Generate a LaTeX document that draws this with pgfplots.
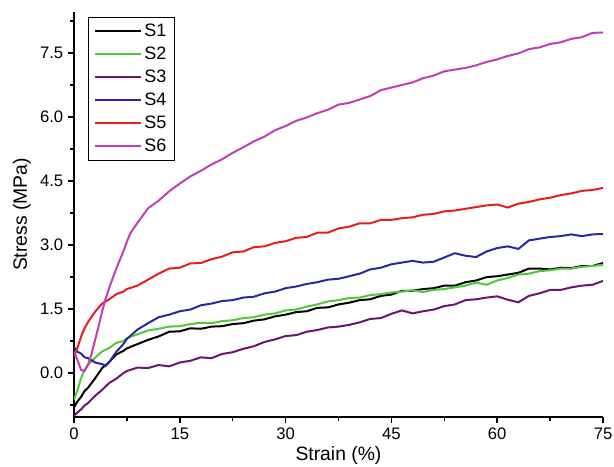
\documentclass[border=0pt]{standalone}
\usepackage{pgfplots}
\pgfplotsset{compat=1.18}
\usepackage{fontspec}
\setmainfont{Liberation Sans}

\definecolor{cS2}{RGB}{80,200,60}
\definecolor{cS3}{RGB}{110,20,110}
\definecolor{cS4}{RGB}{40,40,165}
\definecolor{cS5}{RGB}{230,30,30}
\definecolor{cS6}{RGB}{195,60,185}

\begin{document}
\begin{tikzpicture}
\begin{axis}[
  scale only axis, width=397pt, height=304pt,
  xmin=0, xmax=75, ymin=-1.03, ymax=8.46,
  axis x line*=bottom, axis y line*=left,
  axis line style={-, line width=1.1pt},
  tick align=outside, tick style={black, line width=1.1pt},
  major tick length=4.5pt, minor tick length=3pt,
  xtick={0,15,...,75}, minor xtick={7.5,22.5,...,67.5},
  ytick={0,1.5,...,7.5}, minor ytick={-0.75,0.75,...,8.25},
  yticklabel style={/pgf/number format/.cd, fixed, fixed zerofill, precision=1},
  /pgf/number format/assume math mode=true,
  ticklabel style={font=\fontsize{12.5}{14}\selectfont},
  xlabel={Strain (\%)}, ylabel={Stress (MPa)},
  every axis x label/.style={at={(rel axis cs:0.5,0)}, anchor=center, yshift=-29pt,
    font=\fontsize{14.5}{16}\selectfont},
  every axis y label/.style={at={(rel axis cs:0,0.5)}, rotate=90, anchor=center, yshift=39pt,
    font=\fontsize{14.5}{16}\selectfont},
  legend style={at={(rel axis cs:0,1)}, anchor=north west, xshift=10.5pt, yshift=-3.75pt,
    draw=black, line width=0.8pt,
    font=\fontsize{13.5}{15}\selectfont, row sep=2.3pt, inner xsep=4pt, inner ysep=3pt},
  legend cell align=left,
  legend image code/.code={\draw[#1, line width=1pt] (0cm,0cm) -- (1.15cm,0cm); \path (0cm,0cm) -- (1.21cm,0cm);},
  every axis plot/.append style={line width=1.5pt},
]
\addplot[black] coordinates {
(0,-0.80) (0.5,-0.66) (1,-0.56) (1.5,-0.42) (2,-0.34) (3,-0.12) (4,0.12) (5,0.26) (6,0.44) (7,0.52)
(7.5,0.58) (9,0.68) (10.5,0.78) (12,0.86) (13.5,0.97) (15,0.98) (16.5,1.05) (18,1.04) (19.5,1.09)
(21,1.10) (22.5,1.15) (24,1.17) (25.5,1.23) (27,1.26) (28.5,1.33) (30,1.37) (31.5,1.43) (33,1.45)
(34.5,1.53) (36,1.54) (37.5,1.61) (39,1.65) (40.5,1.71) (42,1.73) (43.5,1.81) (45,1.84) (46.5,1.93)
(48,1.93) (49.5,1.97) (51,1.99) (52.5,2.05) (54,2.05) (55.5,2.13) (57,2.17) (58.5,2.25) (60,2.27)
(61.5,2.31) (63,2.35) (64.5,2.45) (66,2.45) (67.5,2.43) (69,2.47) (70.5,2.46) (72,2.51) (73.5,2.51) (75,2.58)};
\addlegendentry{S1}
\addplot[cS2] coordinates {
(0,-0.62) (0.5,-0.40) (1,-0.12) (1.5,0.08) (2,0.20) (3,0.36) (4,0.51) (5,0.59) (6,0.71) (7,0.75)
(7.5,0.82) (9,0.91) (10.5,1.00) (12,1.04) (13.5,1.09) (15,1.10) (16.5,1.15) (18,1.18) (19.5,1.17)
(21,1.22) (22.5,1.24) (24,1.29) (25.5,1.31) (27,1.37) (28.5,1.40) (30,1.47) (31.5,1.49) (33,1.56)
(34.5,1.61) (36,1.68) (37.5,1.71) (39,1.76) (40.5,1.77) (42,1.83) (43.5,1.85) (45,1.89) (46.5,1.91)
(48,1.94) (49.5,1.90) (51,1.95) (52.5,1.97) (54,2.01) (55.5,2.05) (57,2.12) (58.5,2.07) (60,2.17)
(61.5,2.23) (63,2.31) (64.5,2.33) (66,2.39) (67.5,2.41) (69,2.45) (70.5,2.45) (72,2.49) (73.5,2.51) (75,2.54)};
\addlegendentry{S2}
\addplot[cS3] coordinates {
(0,-1.00) (0.5,-0.92) (1,-0.85) (1.5,-0.76) (2,-0.70) (3,-0.53) (4,-0.39) (5,-0.23) (6,-0.13) (7,0.00)
(7.5,0.05) (9,0.13) (10.5,0.12) (12,0.19) (13.5,0.16) (15,0.25) (16.5,0.29) (18,0.37) (19.5,0.35)
(21,0.45) (22.5,0.49) (24,0.57) (25.5,0.63) (27,0.73) (28.5,0.79) (30,0.87) (31.5,0.89) (33,0.97)
(34.5,1.01) (36,1.07) (37.5,1.09) (39,1.13) (40.5,1.19) (42,1.27) (43.5,1.29) (45,1.39) (46.5,1.47)
(48,1.40) (49.5,1.45) (51,1.49) (52.5,1.57) (54,1.61) (55.5,1.71) (57,1.73) (58.5,1.77) (60,1.80)
(61.5,1.72) (63,1.66) (64.5,1.81) (66,1.87) (67.5,1.95) (69,1.95) (70.5,2.01) (72,2.05) (73.5,2.07) (75,2.16)};
\addlegendentry{S3}
\addplot[cS4] coordinates {
(0,0.62) (0.5,0.50) (1,0.46) (1.5,0.37) (2,0.35) (3,0.25) (4,0.21) (4.5,0.17) (5,0.26) (6,0.50) (7,0.68)
(7.5,0.80) (9,1.02) (10.5,1.17) (12,1.31) (13.5,1.37) (15,1.45) (16.5,1.49) (18,1.59) (19.5,1.63)
(21,1.69) (22.5,1.71) (24,1.77) (25.5,1.79) (27,1.87) (28.5,1.91) (30,1.99) (31.5,2.03) (33,2.09)
(34.5,2.13) (36,2.19) (37.5,2.21) (39,2.27) (40.5,2.33) (42,2.43) (43.5,2.47) (45,2.55) (46.5,2.59)
(48,2.63) (49.5,2.59) (51,2.61) (52.5,2.71) (54,2.81) (55.5,2.75) (57,2.72) (58.5,2.85) (60,2.93)
(61.5,2.97) (63,2.91) (64.5,3.11) (66,3.15) (67.5,3.19) (69,3.21) (70.5,3.25) (72,3.21) (73.5,3.25) (75,3.26)};
\addlegendentry{S4}
\addplot[cS5] coordinates {
(0,0.38) (0.5,0.60) (1,0.85) (1.5,1.05) (2,1.20) (3,1.44) (4,1.63) (5,1.73) (6,1.85) (7,1.91)
(7.5,1.97) (9,2.05) (10.5,2.19) (12,2.33) (13.5,2.45) (15,2.47) (16.5,2.57) (18,2.58) (19.5,2.67)
(21,2.73) (22.5,2.83) (24,2.85) (25.5,2.95) (27,2.97) (28.5,3.05) (30,3.09) (31.5,3.17) (33,3.19)
(34.5,3.29) (36,3.29) (37.5,3.39) (39,3.43) (40.5,3.51) (42,3.51) (43.5,3.59) (45,3.59) (46.5,3.63)
(48,3.65) (49.5,3.71) (51,3.73) (52.5,3.79) (54,3.81) (55.5,3.85) (57,3.89) (58.5,3.93) (60,3.95)
(61.5,3.88) (63,3.97) (64.5,4.01) (66,4.07) (67.5,4.11) (69,4.17) (70.5,4.21) (72,4.27) (73.5,4.29) (75,4.34)};
\addlegendentry{S5}
\addplot[cS6] coordinates {
(0,0.52) (0.5,0.30) (1,0.08) (1.5,0.05) (2,0.20) (2.5,0.45) (3,0.78) (3.5,1.10) (4,1.45) (4.5,1.75)
(5,2.00) (6,2.45) (7,2.85) (7.5,3.08) (8,3.28) (9,3.52) (10.5,3.86) (12,4.04) (13.5,4.26) (15,4.44)
(16.5,4.61) (18,4.74) (19.5,4.89) (21,5.01) (22.5,5.16) (24,5.29) (25.5,5.43) (27,5.54) (28.5,5.69)
(30,5.79) (31.5,5.91) (33,5.99) (34.5,6.09) (36,6.17) (37.5,6.29) (39,6.33) (40.5,6.41) (42,6.49)
(43.5,6.63) (45,6.69) (46.5,6.75) (48,6.81) (49.5,6.91) (51,6.97) (52.5,7.07) (54,7.11) (55.5,7.15)
(57,7.21) (58.5,7.29) (60,7.35) (61.5,7.43) (63,7.49) (64.5,7.59) (66,7.63) (67.5,7.71) (69,7.75)
(70.5,7.83) (72,7.87) (73.5,7.97) (75,7.98)};
\addlegendentry{S6}
\end{axis}
\pgfresetboundingbox
\path ([xshift=-55.5pt, yshift=-36.75pt]current axis.south west) rectangle ([xshift=8.25pt, yshift=9pt]current axis.north east);
\end{tikzpicture}
\end{document}
